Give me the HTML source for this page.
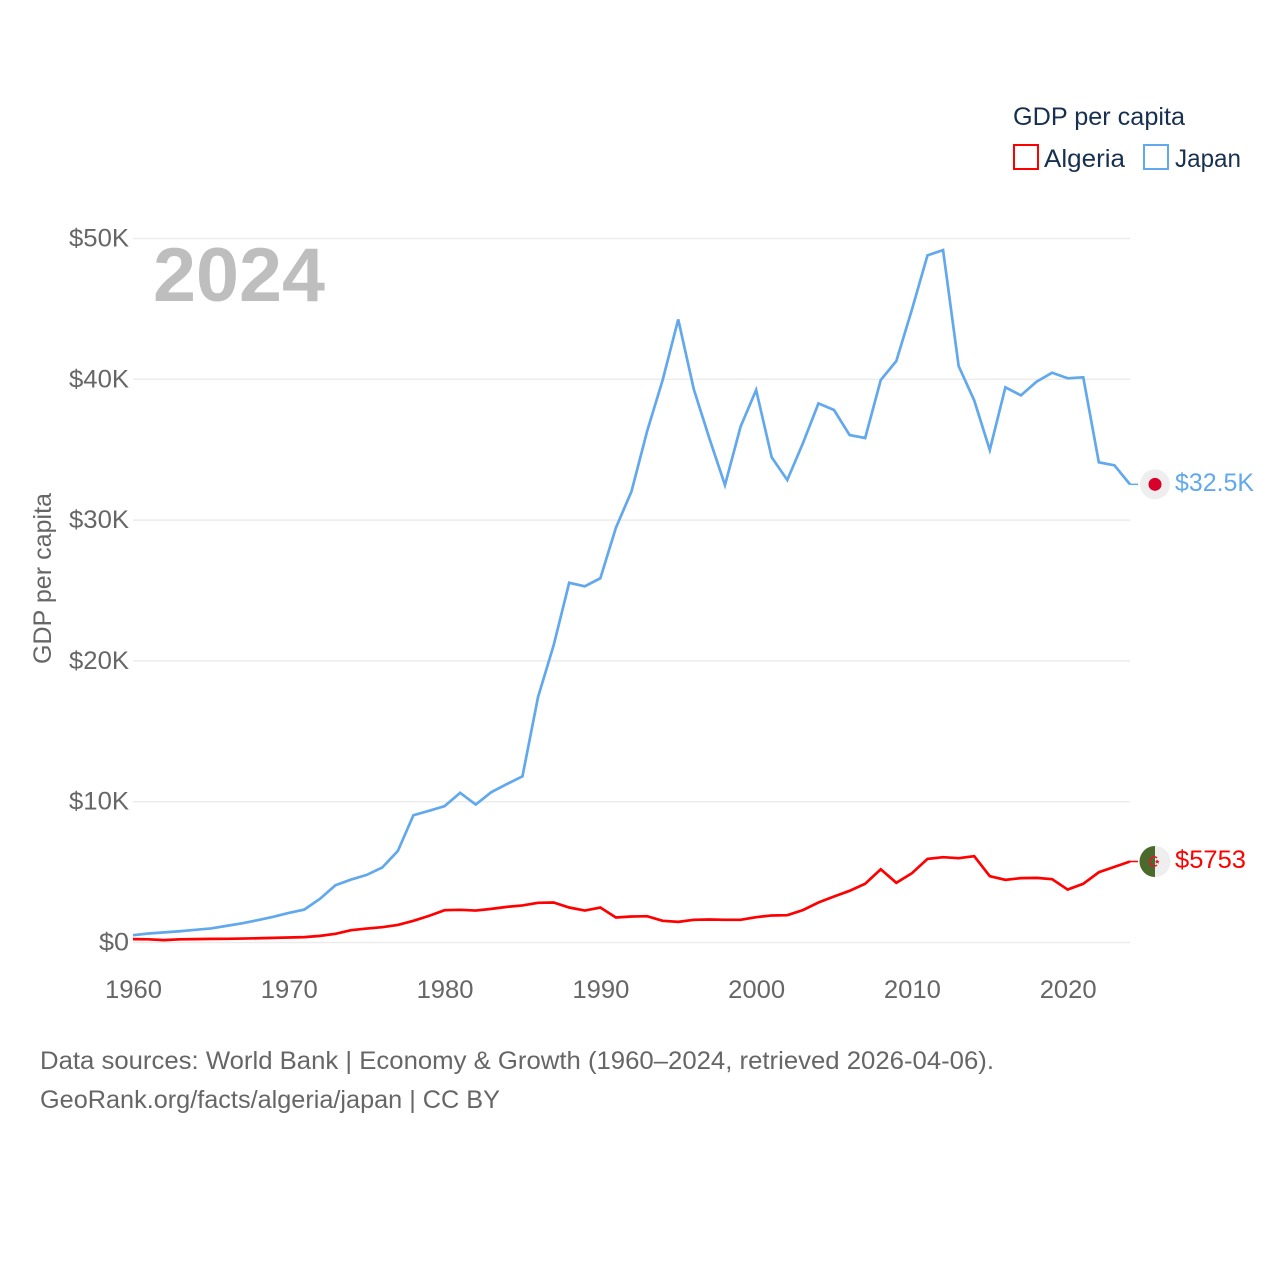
<!DOCTYPE html>
<html lang="en">
<head>
<meta charset="utf-8">
<title>GDP per capita: Algeria and Japan</title>
<style>
html,body{margin:0;padding:0;background:#fff;width:1280px;height:1280px;overflow:hidden}
svg{display:block}
text{font-family:"Liberation Sans",sans-serif}
</style>
</head>
<body>
<svg id="chart" xmlns="http://www.w3.org/2000/svg" width="1280" height="1280" viewBox="0 0 1280 1280">
  <rect x="0" y="0" width="1280" height="1280" fill="#ffffff"/>
  <g id="grid"></g>
  <g id="y-axis"></g>
  <g id="x-axis"></g>
  <text x="153" y="301" font-size="76" font-weight="700" fill="#bebebe" textLength="172" lengthAdjust="spacingAndGlyphs">2024</text>
  <text transform="translate(51,664) rotate(-90)" font-size="25" fill="#666666" textLength="171" lengthAdjust="spacingAndGlyphs">GDP per capita</text>
  <g id="series"></g>
  <g id="end-markers"></g>
  <g>
    <text x="1013" y="125" font-size="25" fill="#18304f" textLength="172" lengthAdjust="spacingAndGlyphs">GDP per capita</text>
    <g>
      <rect x="1014" y="145" width="24" height="24" fill="none" stroke="#ff0000" stroke-width="2"/>
      <text x="1044" y="167" font-size="25" fill="#18304f" textLength="81" lengthAdjust="spacingAndGlyphs">Algeria</text>
    </g>
    <g>
      <rect x="1144" y="145" width="24" height="24" fill="none" stroke="#62a8ec" stroke-width="2"/>
      <text x="1175" y="167" font-size="25" fill="#18304f" textLength="66" lengthAdjust="spacingAndGlyphs">Japan</text>
    </g>
  </g>
  <g>
    <text x="40" y="1069" font-size="25" fill="#666666" textLength="954" lengthAdjust="spacingAndGlyphs">Data sources: World Bank | Economy &amp; Growth (1960–2024, retrieved 2026-04-06).</text>
    <text x="40" y="1108" font-size="25" fill="#666666" textLength="460" lengthAdjust="spacingAndGlyphs">GeoRank.org/facts/algeria/japan | CC BY</text>
  </g>
</svg>
<script>
const years = [1960,1961,1962,1963,1964,1965,1966,1967,1968,1969,1970,1971,1972,1973,1974,1975,1976,1977,1978,1979,1980,1981,1982,1983,1984,1985,1986,1987,1988,1989,1990,1991,1992,1993,1994,1995,1996,1997,1998,1999,2000,2001,2002,2003,2004,2005,2006,2007,2008,2009,2010,2011,2012,2013,2014,2015,2016,2017,2018,2019,2020,2021,2022,2023,2024];
const japanValues = [520,640,720,800,900,1000,1180,1360,1585,1820,2100,2340,3100,4070,4470,4800,5325,6500,9040,9350,9680,10630,9800,10675,11250,11800,17430,21100,25550,25300,25870,29460,32040,36300,39950,44250,39290,35800,32490,36630,39240,34460,32850,35450,38290,37820,36040,35830,39950,41300,44950,48800,49180,40940,38500,34980,39430,38860,39830,40470,40070,40140,34100,33890,32540];
const algeriaValues = [237,225,170,225,240,260,262,280,300,330,355,380,470,615,875,990,1090,1250,1540,1890,2295,2320,2270,2390,2530,2630,2820,2840,2485,2270,2485,1775,1845,1870,1540,1465,1610,1635,1610,1610,1800,1920,1940,2300,2840,3270,3670,4170,5200,4240,4920,5940,6060,5990,6130,4710,4450,4570,4590,4500,3760,4170,4990,5370,5753];
const yTicks = [0,10000,20000,30000,40000,50000];
const xTicks = [1960,1970,1980,1990,2000,2010,2020];

const svgNS = 'http://www.w3.org/2000/svg';
const xScale = function (year) { return 133 + (year - 1960) * (997 / 64); };
const yScale = function (value) { return 942.5 - value * (704 / 50000); };
const yTickText = function (v) { return v === 0 ? '$0' : '$' + (v / 1000) + 'K'; };
const endText = function (v) { return v >= 10000 ? '$' + (v / 1000).toFixed(1) + 'K' : '$' + Math.round(v); };
const make = function (tag, attrs) {
  const el = document.createElementNS(svgNS, tag);
  Object.keys(attrs).forEach(function (k) { el.setAttribute(k, attrs[k]); });
  return el;
};

const gridG = document.getElementById('grid');
const yG = document.getElementById('y-axis');
yTicks.forEach(function (v) {
  const line = make('line', { x1: 133, x2: 1130, y1: yScale(v), y2: yScale(v), stroke: '#ececec', 'stroke-width': 1.5 });
  
  
  gridG.appendChild(line);
  const label = yTickText(v);
  const t = make('text', { x: 129, y: yScale(v) + 8, 'text-anchor': 'end', 'font-size': 25, fill: '#666666', textLength: label.length * 15, lengthAdjust: 'spacingAndGlyphs' });
  
  
  t.textContent = label;
  yG.appendChild(t);
});

const xG = document.getElementById('x-axis');
xTicks.forEach(function (yr) {
  const t = make('text', { x: xScale(yr) + 0.5, y: 998, 'text-anchor': 'middle', 'font-size': 25, fill: '#666666', textLength: 57, lengthAdjust: 'spacingAndGlyphs' });
  
  
  t.textContent = String(yr);
  xG.appendChild(t);
});

const seriesG = document.getElementById('series');
const drawSeries = function (values, color, name) {
  const pts = values.map(function (v, i) { return xScale(years[i]).toFixed(2) + ',' + yScale(v).toFixed(2); }).join(' ');
  const line = make('polyline', { points: pts, fill: 'none', stroke: color, 'stroke-width': 2.7, 'stroke-linejoin': 'miter' });
  
  
  seriesG.appendChild(line);
  const lastV = values[values.length - 1];
  const lastX = xScale(years[years.length - 1]);
  const conn = make('line', { x1: lastX, x2: lastX + 8, y1: yScale(lastV), y2: yScale(lastV), stroke: color, 'stroke-width': 1.5 });
  
  
  seriesG.appendChild(conn);
};
drawSeries(japanValues, '#62a8ec', 'japan-line');
drawSeries(algeriaValues, '#ff0000', 'algeria-line');

const markers = document.getElementById('end-markers');
const addLabel = function (v, color, width, name) {
  const t = make('text', { x: 1175, y: yScale(v) + 6.5, 'font-size': 25, fill: color, textLength: width, lengthAdjust: 'spacingAndGlyphs' });
  
  
  t.textContent = endText(v);
  markers.appendChild(t);
};

/* Japan flag marker */
const jpV = japanValues[japanValues.length - 1];
const jp = make('g', { transform: 'translate(1155,' + yScale(jpV) + ')' });


jp.appendChild(make('circle', { cx: 0, cy: 0, r: 15, fill: '#eeeeee' }));
jp.appendChild(make('circle', { cx: 0, cy: 0, r: 6.5, fill: '#d8002a' }));
markers.appendChild(jp);
addLabel(jpV, '#62a8ec', 79, 'japan-end-label');

/* Algeria flag marker */
const dzV = algeriaValues[algeriaValues.length - 1];
const dz = make('g', { transform: 'translate(1155,' + yScale(dzV) + ')' });


dz.appendChild(make('circle', { cx: 0, cy: 0, r: 15.5, fill: '#eeeeee' }));
dz.appendChild(make('path', { d: 'M0,-15.5 A15.5,15.5 0 0 0 0,15.5 Z', fill: '#4a6a2c' }));
dz.appendChild(make('path', { d: 'M2,-3.6 A4.6,4.6 0 1 0 2,3.6', fill: 'none', stroke: '#e8112d', 'stroke-width': 1.5 }));
dz.appendChild(make('polygon', { points: '2,-2 3,-0.6 4.6,-0.6 3.4,0.5 3.9,2.1 2,1.2 0.5,2.1 1,0.5 -0.2,-0.6 1.2,-0.6', fill: '#e8112d' }));
markers.appendChild(dz);
addLabel(dzV, '#ff0000', 71, 'algeria-end-label');
</script>
</body>
</html>
